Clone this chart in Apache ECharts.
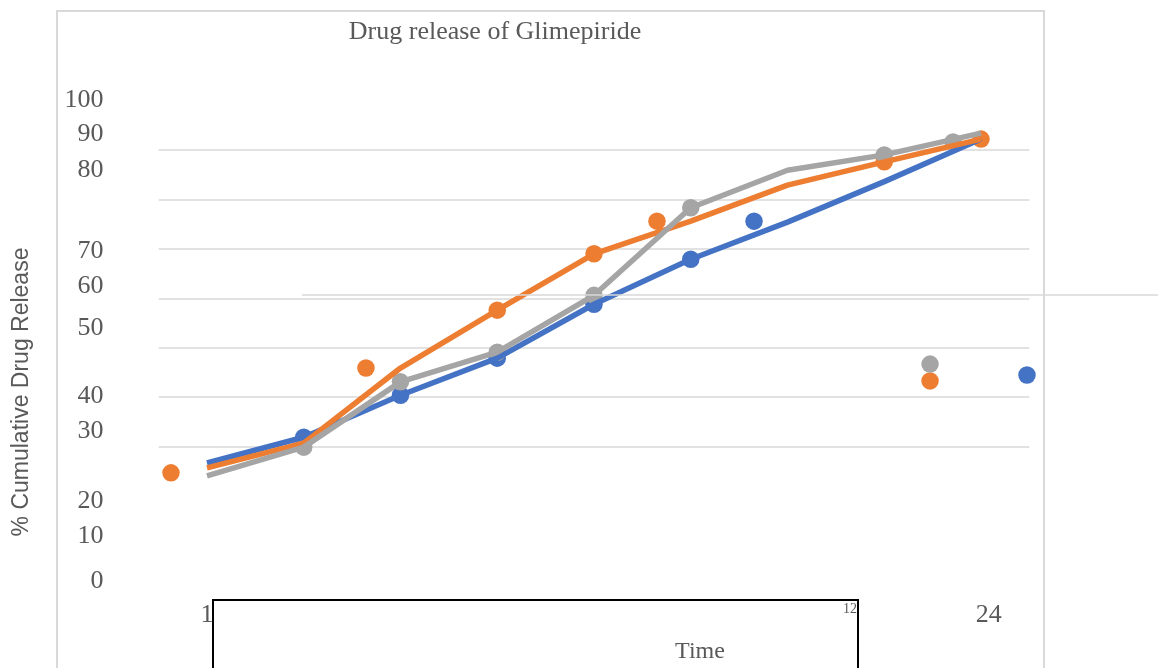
<!DOCTYPE html>
<html>
<head>
<meta charset="utf-8">
<script src="https://cdn.jsdelivr.net/npm/echarts@6/dist/echarts.min.js"></script>
<style>html,body{margin:0;padding:0;background:#fff;}#c{width:1158px;height:668px;}</style>
</head>
<body>
<div id="c"></div>
<script>
// ---- data ----
const titleText = 'Drug release of Glimepiride';
const yName = '% Cumulative Drug Release';
const xName = 'Time';
// line vertices (sample index) and values
const lineX = [0, 1, 2, 3, 4, 5, 6, 7, 8];
const blueLine = [26.7, 31.9, 40.4, 47.9, 58.8, 67.9, 75.4, 83.6, 92.2];
const orangeLine = [25.7, 30.7, 45.9, 57.6, 69.0, 75.6, 82.9, 87.6, 92.2];
const greyLine = [24.1, 29.9, 43.1, 49.1, 60.6, 78.3, 85.9, 89.0, 93.4];
// markers (as drawn, some displaced)
const blueMarkX = [1, 2, 3, 4, 5, 5.654, 8.475];
const blueMarkY = [31.9, 40.4, 47.9, 58.8, 67.9, 75.6, 44.5];
const orangeMarkX = [-0.372, 1, 1.643, 3, 4, 4.651, 7, 7.473, 8];
const orangeMarkY = [24.7, 30.7, 45.9, 57.6, 69.0, 75.6, 87.6, 43.3, 92.2];
const greyMarkX = [1, 2, 3, 4, 5, 7, 7.473, 7.711];
const greyMarkY = [29.9, 43.1, 49.1, 60.6, 78.3, 89.0, 46.7, 91.6];
// axis tick labels
const yTickLabels = ['100', '90', '80', '70', '60', '50', '40', '30', '20', '10', '0'];
const yTickLabelAt = [100, 93.1, 85.9, 69.6, 62.5, 53.9, 40.2, 33.1, 18.9, 11.8, 2.8];
const gridValues = [30, 40, 50, 60, 70, 80, 90];
const xTickLabels = ['1', '12', '24'];
const xTickLabelAt = [0, 6.646, 8.08];

const zip = (xs, ys) => xs.map((x, i) => [x, ys[i]]);
const nearest = (arr, v) => { let b = 0; arr.forEach((a, i) => { if (Math.abs(a - v) < Math.abs(arr[b] - v)) b = i; }); return b; };

const BLUE = '#4472C4', ORANGE = '#ED7D31', GREY = '#A5A5A5', TXT = '#595959', GRIDC = '#d9d9d9';
const serif = '"Liberation Serif", "Times New Roman", serif';

const chart = echarts.init(document.getElementById('c'), null, { renderer: 'canvas' });
const lineS = (name, vals, color) => ({
  name, type: 'line', data: zip(lineX, vals), showSymbol: false, symbol: 'none',
  lineStyle: { color, width: 5.5, join: 'round', cap: 'butt' }, itemStyle: { color }, clip: false, silent: true
});
const dotS = (name, xs, ys, color) => ({
  name, type: 'scatter', data: zip(xs, ys), symbol: 'circle', symbolSize: 17.5,
  itemStyle: { color, opacity: 1 }, clip: false, silent: true
});

chart.setOption({
  animation: false,
  backgroundColor: '#fff',
  title: {
    text: titleText, left: 490, top: 14, textAlign: 'center',
    textStyle: { fontFamily: serif, fontSize: 26, fontWeight: 'normal', color: TXT }
  },
  grid: { left: 158.6, right: 128.6, top: 100.5, bottom: 73, containLabel: false },
  xAxis: {
    type: 'value', min: -0.5, max: 8.5,
    axisLine: { show: false }, axisTick: { show: false }, splitLine: { show: false },
    axisLabel: {
      customValues: xTickLabelAt, margin: 7, color: TXT, fontFamily: serif, fontSize: 26, lineHeight: 26,
      verticalAlign: 'top',
      formatter: v => { const i = nearest(xTickLabelAt, v); return i === 1 ? '{s|' + xTickLabels[i] + '}' : xTickLabels[i]; },
      rich: { s: { fontSize: 14, lineHeight: 14, fontFamily: serif, color: TXT, verticalAlign: 'top' } }
    }
  },
  yAxis: {
    type: 'value', min: 0, max: 100,
    axisLine: { show: false },
    axisTick: { show: false, customValues: gridValues },
    splitLine: { show: true, lineStyle: { color: GRIDC, width: 1.5 } },
    axisLabel: {
      customValues: yTickLabelAt, margin: 55, color: TXT, fontFamily: serif, fontSize: 26,
      formatter: v => yTickLabels[nearest(yTickLabelAt, v)]
    }
  },
  series: [
    lineS('blueLine', blueLine, BLUE),
    dotS('blueDots', blueMarkX, blueMarkY, BLUE),
    lineS('orangeLine', orangeLine, ORANGE),
    dotS('orangeDots', orangeMarkX, orangeMarkY, ORANGE),
    lineS('greyLine', greyLine, GREY),
    dotS('greyDots', greyMarkX, greyMarkY, GREY)
  ],
  graphic: [
    { type: 'rect', shape: { x: 57, y: 11, width: 987, height: 720 }, style: { fill: 'none', stroke: GRIDC, lineWidth: 2 }, z: -1, silent: true },
    { type: 'line', shape: { x1: 302, y1: 295, x2: 1158, y2: 295 }, style: { stroke: GRIDC, lineWidth: 1.5 }, z: 100, silent: true },
    { type: 'rect', shape: { x: 213, y: 600, width: 645, height: 100 }, style: { fill: 'none', stroke: '#000', lineWidth: 2 }, z: 100, silent: true },
    { type: 'text', x: 700, y: 652, style: { text: xName, fill: TXT, font: '24px ' + serif, align: 'center', verticalAlign: 'middle' }, z: 100, silent: true },
    { type: 'text', x: 22, y: 392, rotation: Math.PI / 2, style: { text: yName, fill: TXT, font: '23px "Liberation Sans", Arial, sans-serif', align: 'center', verticalAlign: 'middle' }, z: 100, silent: true }
  ]
});
</script>
</body>
</html>
